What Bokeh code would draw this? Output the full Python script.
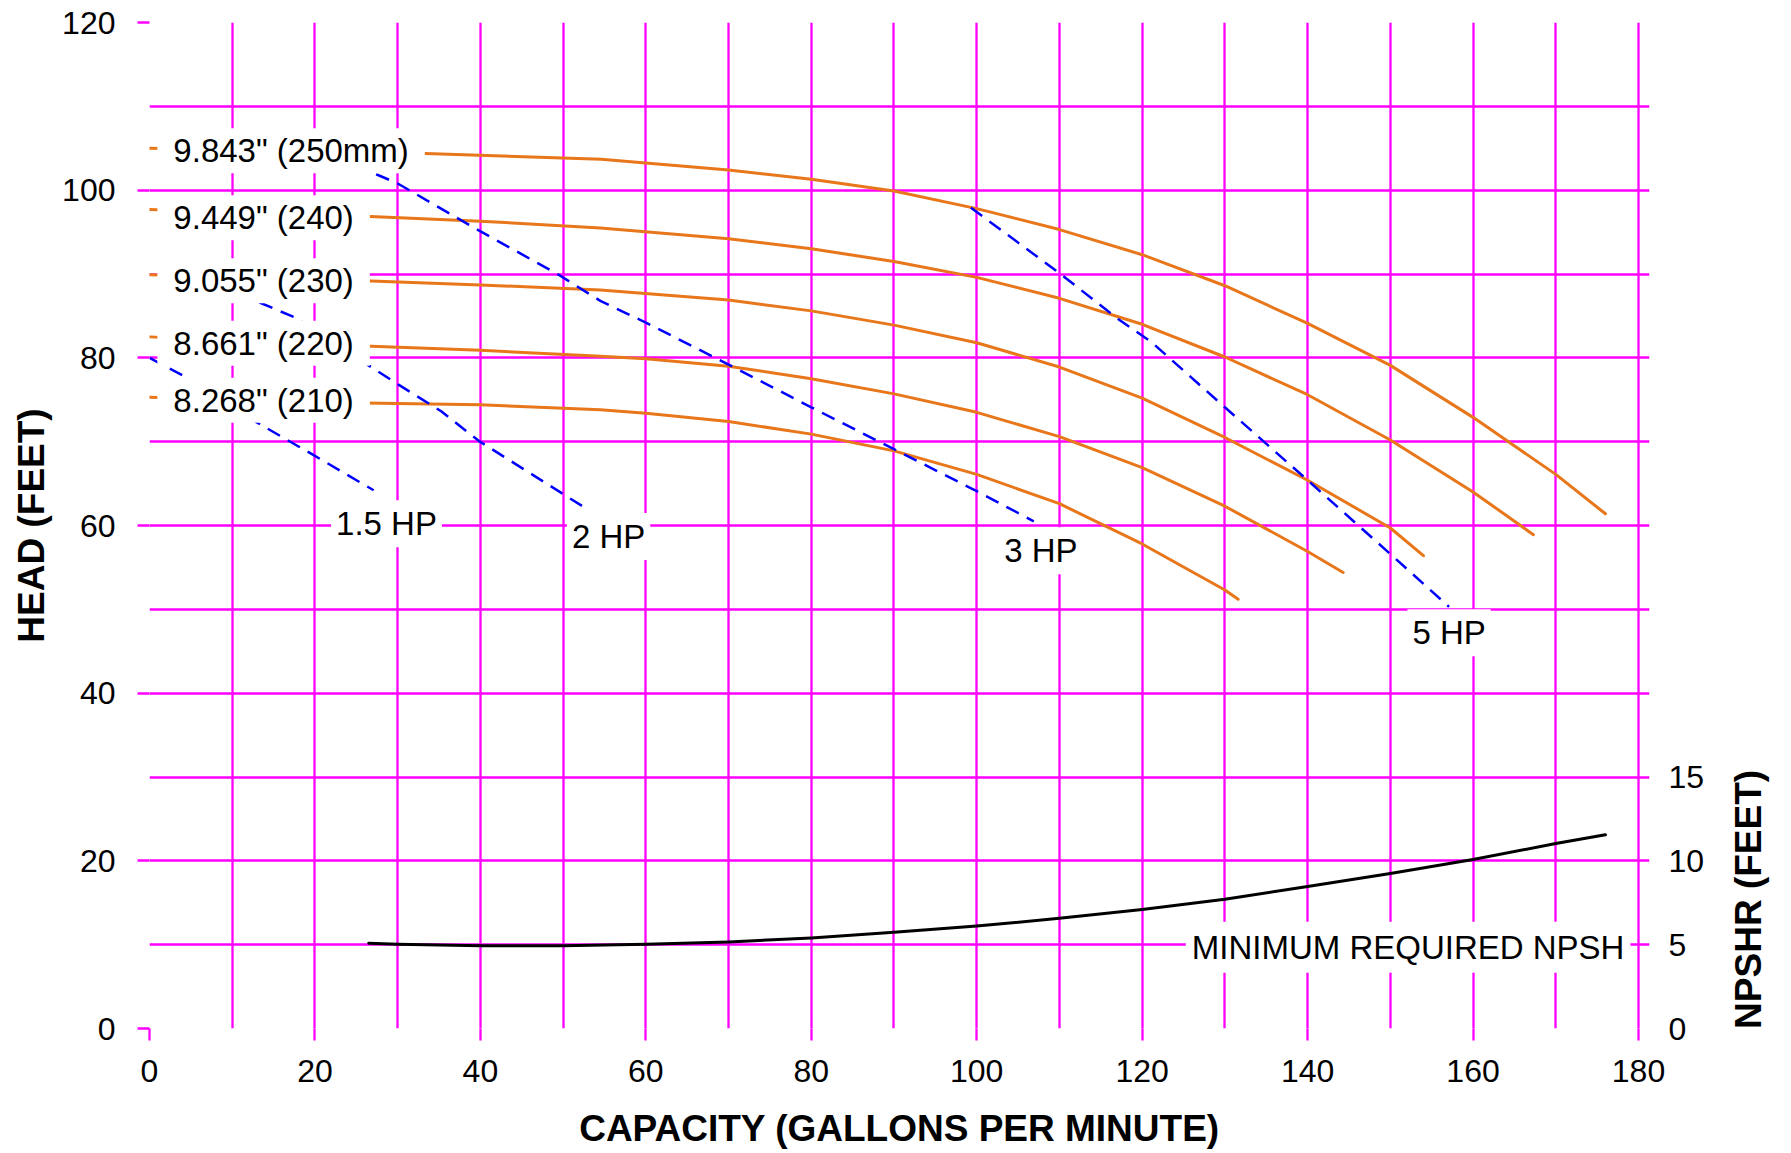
import math
from bokeh.plotting import figure
from bokeh.layouts import row
from bokeh.models import Range1d, LinearAxis, FixedTicker, Label
from bokeh.core.properties import value
from bokeh.embed import file_html
from bokeh.resources import INLINE

# ---------------- data ----------------
# impeller diameter curves: capacity (gpm) vs head (ft)
gpm_250 = [0, 32.4, 54.6, 70, 80, 90, 100, 110, 120, 130, 140, 150, 160, 170, 176.0]
head_250 = [105.0, 104.4, 103.7, 102.4, 101.3, 99.9, 97.8, 95.3, 92.3, 88.6, 84.1, 79.1, 72.9, 66.1, 61.4]

gpm_240 = [0, 26.0, 40, 54.5, 70, 80, 90, 100, 110, 120, 130, 140, 150, 160, 167.3]
head_240 = [97.7, 96.9, 96.3, 95.5, 94.2, 93.0, 91.5, 89.6, 87.1, 84.0, 80.1, 75.6, 70.2, 64.0, 58.9]

gpm_230 = [0, 26.0, 40, 54.5, 70, 80, 90, 100, 110, 120, 130, 140, 150, 154.0]
head_230 = [89.9, 89.2, 88.7, 88.1, 86.9, 85.6, 83.9, 81.8, 78.9, 75.2, 70.5, 65.4, 59.7, 56.4]

gpm_220 = [0, 26.0, 40, 54.5, 60, 70, 80, 90, 100, 110, 120, 130, 140, 144.3]
head_220 = [82.5, 81.4, 80.9, 80.2, 79.9, 79.0, 77.5, 75.7, 73.5, 70.6, 66.9, 62.3, 56.9, 54.4]

gpm_210 = [0, 26.0, 40, 54.5, 60, 70, 80, 90, 100, 110, 120, 130, 131.6]
head_210 = [75.3, 74.6, 74.4, 73.8, 73.4, 72.4, 70.9, 68.9, 66.1, 62.6, 57.8, 52.3, 51.2]

# power lines
hp15_gpm = [0, 4.2, 12.8, 20, 27.1]
hp15_head = [80.0, 77.8, 72.4, 68.3, 64.2]
hp2_gpm = [13.3, 17.6, 26.0, 30.1, 35.3, 39.8, 52.5]
hp2_head = [86.6, 84.8, 79.4, 76.8, 73.6, 70.1, 62.2]
hp3_gpm = [27.4, 30, 39.8, 49.3, 54.5, 60, 70, 80, 90, 100, 106.9]
hp3_head = [101.9, 100.8, 95.2, 90.0, 86.8, 84.2, 79.2, 74.1, 69.1, 64.1, 60.5]
hp5_gpm = [99.3, 110, 117, 121.1, 130, 140, 150, 157.1]
hp5_head = [97.9, 90.1, 84.7, 81.9, 74.1, 65.4, 56.6, 50.3]

# minimum required NPSH (ft, right axis)
npsh_gpm = [26.5, 30, 40, 50, 60, 70, 80, 90, 100, 110, 120, 130, 140, 150, 160, 170, 176]
npsh_ft = [5.08, 5.02, 4.94, 4.94, 5.02, 5.16, 5.40, 5.74, 6.11, 6.57, 7.10, 7.71, 8.47, 9.24, 10.08, 11.03, 11.55]

# texts and their anchor points (data units)
diam_labels = ['9.843" (250mm)', '9.449" (240)', '9.055" (230)', '8.661" (220)', '8.268" (210)']
diam_label_gpm = 0.95
diam_label_head = [104.7, 96.7, 89.2, 81.75, 74.95]
hp_labels = ["1.5 HP", "2 HP", "3 HP", "5 HP"]
hp_label_gpm = [28.65, 55.5, 107.75, 157.1]
hp_label_head = [60.2, 58.7, 57.0, 47.2]
npsh_label = "MINIMUM REQUIRED NPSH"
npsh_label_pos = (152.15, 9.7)
x_title = "CAPACITY (GALLONS PER MINUTE)"
y_title = "HEAD (FEET)"
y2_title = "NPSHR (FEET)"
y2_title_head = 15.4

x_ticks = list(range(0, 181, 20))
x_minor = list(range(10, 180, 20))
y_ticks = list(range(0, 121, 20))
y_minor = list(range(10, 120, 20))
npsh_ticks = [0, 5, 10, 15]

# ---------------- styling ----------------
FONT = "Liberation Sans"
MAGENTA = "#FF00FF"
ORANGE = "#E8761A"
BLUE = "#0000FF"
GRID_W = 2.3
TOP, FRAME_H, BOTTOM = 22, 1006, 124

p = figure(frame_width=1500, frame_height=FRAME_H,
           x_range=Range1d(0, 181.33), y_range=Range1d(0, 120),
           output_backend="svg", toolbar_location=None,
           min_border_left=149, min_border_right=70,
           min_border_top=TOP, min_border_bottom=BOTTOM,
           background_fill_color="white", border_fill_color="white")
p.outline_line_color = None
p.extra_y_ranges = {"npsh": Range1d(0, 60)}

xt = FixedTicker(ticks=x_ticks, minor_ticks=x_minor)
yt = FixedTicker(ticks=y_ticks, minor_ticks=y_minor)

xa = p.xaxis[0]
xa.ticker = xt
ya = p.yaxis[0]
ya.ticker = yt
p.xgrid.ticker = xt
p.ygrid.ticker = yt

for g in (p.xgrid, p.ygrid):
    g.grid_line_color = MAGENTA
    g.grid_line_width = GRID_W
    g.minor_grid_line_color = MAGENTA
    g.minor_grid_line_width = GRID_W

for ax in (xa, ya):
    ax.axis_line_color = None
    ax.major_tick_line_color = MAGENTA
    ax.major_tick_line_width = GRID_W
    ax.major_tick_out = 12
    ax.major_tick_in = 0
    ax.minor_tick_line_color = None
    ax.minor_tick_out = 0
    ax.minor_tick_in = 0
    ax.major_label_text_font = FONT
    ax.major_label_text_font_size = "32px"
    ax.major_label_text_color = "black"
    ax.axis_label_text_font = FONT
    ax.axis_label_text_font_size = "37px"
    ax.axis_label_text_font_style = "bold"
    ax.axis_label_text_color = "black"

xa.axis_label = x_title
xa.major_label_standoff = 19
xa.axis_label_standoff = 23
ya.axis_label = y_title
ya.major_label_standoff = 22
ya.axis_label_standoff = 7

ra = LinearAxis(y_range_name="npsh", ticker=FixedTicker(ticks=npsh_ticks), bounds=(0, 15))
ra.axis_line_color = None
ra.major_tick_line_color = None
ra.major_tick_out = 0
ra.major_tick_in = 0
ra.minor_tick_line_color = None
ra.major_label_text_font = FONT
ra.major_label_text_font_size = "32px"
ra.major_label_text_color = "black"
ra.major_label_standoff = 19
p.add_layout(ra, "right")

# ---------------- curves ----------------
for xs, ys in ((gpm_250, head_250), (gpm_240, head_240), (gpm_230, head_230),
               (gpm_220, head_220), (gpm_210, head_210)):
    p.line(xs, ys, line_color=ORANGE, line_width=3, line_join="round", line_cap="round")

for xs, ys in ((hp15_gpm, hp15_head), (hp2_gpm, hp2_head), (hp3_gpm, hp3_head), (hp5_gpm, hp5_head)):
    p.line(xs, ys, line_color=BLUE, line_width=2.5, line_dash="14 9")

p.line(npsh_gpm, npsh_ft, y_range_name="npsh", line_color="black", line_width=3,
       line_join="round", line_cap="round")

# ---------------- labels ----------------
for t, y in zip(diam_labels, diam_label_head):
    p.add_layout(Label(x=diam_label_gpm, y=y, text=t, text_font=FONT, text_font_size="33px",
                       text_align="left", text_baseline="middle", text_color="black",
                       background_fill_color="white", padding=(16, 4)))

for t, x, y in zip(hp_labels, hp_label_gpm, hp_label_head):
    p.add_layout(Label(x=x, y=y, text=t, text_font=FONT, text_font_size="33px",
                       text_align="center", text_baseline="middle", text_color="black",
                       background_fill_color="white", padding=(5, 5)))

p.add_layout(Label(x=npsh_label_pos[0], y=npsh_label_pos[1], text=npsh_label, text_font=FONT,
                   text_font_size="33px", text_align="center", text_baseline="middle",
                   text_color="black", background_fill_color="white", padding=(6, 7)))

# ---------------- right-hand axis title (narrow side panel, same vertical scale) ----------------
p2 = figure(frame_width=70, frame_height=FRAME_H,
            x_range=Range1d(0, 70), y_range=Range1d(0, 120),
            output_backend="svg", toolbar_location=None,
            x_axis_location=None, y_axis_location=None,
            min_border_left=0, min_border_right=0,
            min_border_top=TOP, min_border_bottom=BOTTOM,
            background_fill_color="white", border_fill_color="white")
p2.outline_line_color = None
p2.grid.visible = False
p2.text(x=[28.5], y=[y2_title_head], text=[y2_title], angle=math.pi / 2,
        text_font=value(FONT), text_font_size=value("37px"), text_font_style="bold",
        text_align="center", text_baseline="middle", text_color="black")

layout = row(p, p2, spacing=0)
open("out.html", "w").write(file_html(layout, INLINE))
